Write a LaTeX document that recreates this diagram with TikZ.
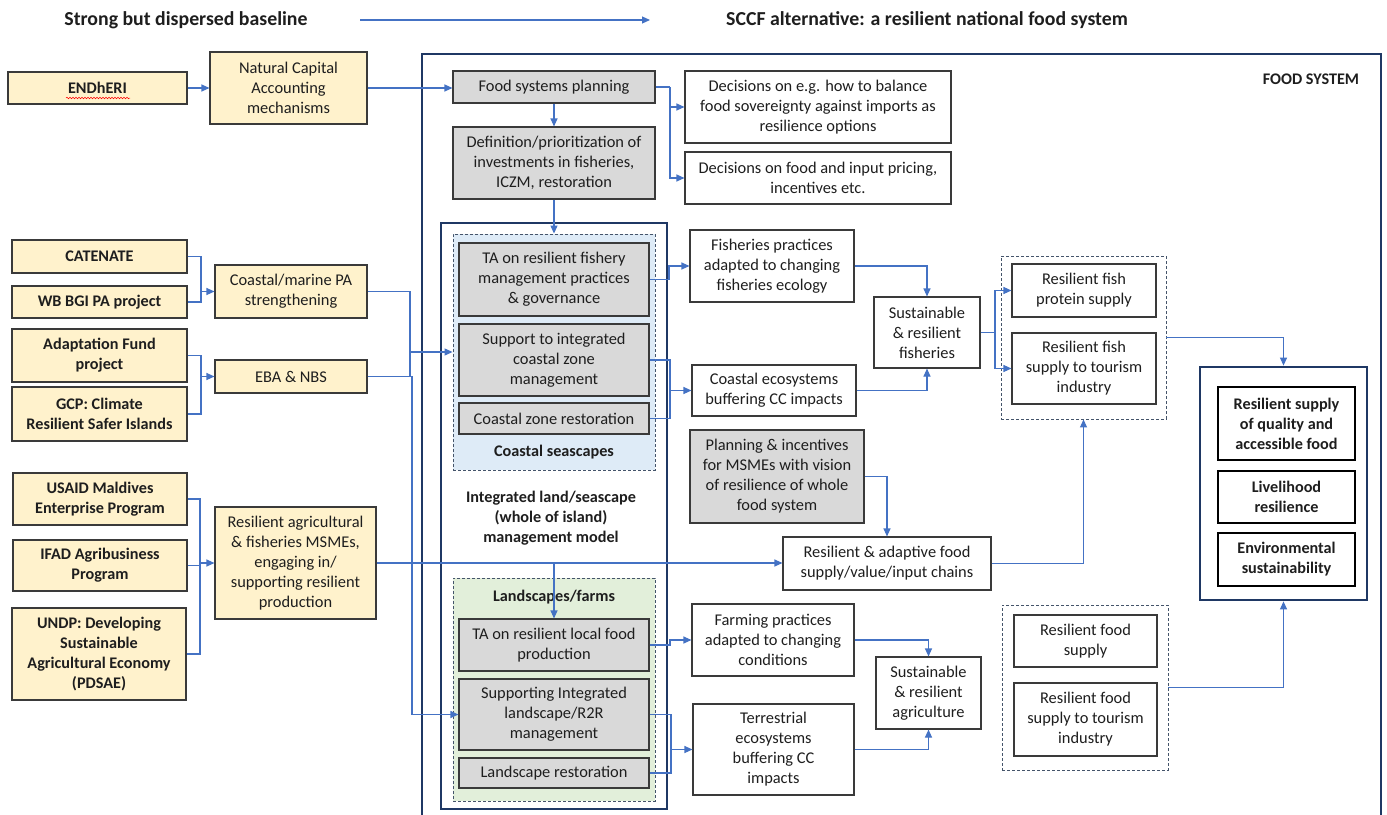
\documentclass[tikz,border=0pt]{standalone}
\usepackage{fontspec}
\setmainfont{Carlito}
\usetikzlibrary{arrows.meta,decorations.pathmorphing}
\definecolor{navy}{HTML}{1F3864}
\definecolor{cblue}{HTML}{4472C4}
\definecolor{yfill}{HTML}{FFF2CC}
\definecolor{gfill}{HTML}{D9D9D9}
\definecolor{bfill}{HTML}{DEEBF7}
\definecolor{lgfill}{HTML}{E2EFDA}
\definecolor{dborder}{HTML}{44546A}
\definecolor{bordr}{HTML}{3A3A3A}
\definecolor{txt}{HTML}{1E1E1E}
\newcommand\mybox[7]{%
  \pgfmathsetmacro\mywd{#5-#3}\pgfmathsetmacro\myht{#6-#4}%
  \pgfmathsetmacro\mycx{(#3+#5)/2}\pgfmathsetmacro\mycy{(#4+#6)/2}%
  \node[#1, minimum width=\mywd pt, minimum height=\myht pt] (#2) at (\mycx,\mycy) {#7};}
\begin{document}
\begin{tikzpicture}[x=1pt,y=-1pt,
  every node/.style={font=\fontsize{16.4}{20}\selectfont, text=txt, align=center, inner sep=1pt},
  boldtxt/.style={font=\fontsize{16.2}{20}\selectfont\bfseries},
  base/.style={draw=bordr, line width=1.1pt},
  ybox/.style={base, fill=yfill},
  ybold/.style={ybox, boldtxt},
  gbox/.style={base, fill=gfill},
  wbox/.style={base, fill=white},
  obox/.style={draw=black, line width=2.8pt, fill=white, boldtxt},
  grp/.style={draw=dborder, line width=0.9pt, dash pattern=on 3pt off 2pt},
  navybox/.style={draw=navy, line width=2.8pt},
  conn/.style={draw=cblue, line width=1.1pt},
  arr/.style={conn, -{Triangle[length=8pt,width=7pt]}},
  ttl/.style={font=\fontsize{19.8}{24}\selectfont\bfseries},
]
\useasboundingbox (0,0) rectangle (1387,814);
\fill[white] (0,0) rectangle (1387,814);

% titles
\node[ttl] (t1) at (186,20) {Strong but dispersed baseline};
\node[ttl] (t2) at (927,20) {SCCF alternative: a resilient national food system};
\coordinate (ta) at (360,20);
\coordinate (tb) at (650,20);
\draw[arr] (ta) -- (tb);

% food system frame
\draw[navybox] (422,830) -- (422,54) -- (1381,54) -- (1381,830);
\node[boldtxt] (fslbl) at (1311,79) {FOOD SYSTEM};

% integrated model frame and groups
\mybox{navybox}{integ}{441}{223}{667}{809}{}
\mybox{grp, fill=bfill}{seagrp}{453}{234}{655}{470}{}
\mybox{grp, fill=lgfill}{landgrp}{453}{578}{655}{801}{}
\node[boldtxt] (sealbl) at (554,452) {Coastal seascapes};
\node[boldtxt] (landlbl) at (554,597) {Landscapes/farms};
\node[boldtxt] (intlbl) at (551,518) {Integrated land/seascape\\(whole of island)\\management model};
\mybox{grp}{fishgrp}{1001}{256}{1166}{419}{}
\mybox{grp}{foodgrp}{1002}{605}{1168}{770}{}

% left yellow boxes
\mybox{ybold}{endheri}{8}{72}{187}{104}{ENDhERI}
\draw[red, line width=0.5pt, decorate, decoration={snake, amplitude=0.8pt, segment length=3pt}] (66,98) -- (130,98);
\mybox{ybox}{nca}{210}{52}{367}{124}{Natural Capital\\Accounting\\mechanisms}
\mybox{ybold}{catenate}{12}{240}{187}{273}{CATENATE}
\mybox{ybold}{wbbgi}{12}{286}{187}{318}{WB BGI PA project}
\mybox{ybox}{cmpa}{215}{265}{367}{318}{Coastal/marine PA\\strengthening}
\mybox{ybold}{adapt}{12}{329}{187}{382}{Adaptation Fund\\project}
\mybox{ybold}{gcp}{12}{387}{187}{441}{GCP: Climate\\Resilient Safer Islands}
\mybox{ybox}{eba}{215}{360}{367}{393}{EBA \& NBS}
\mybox{ybold}{usaid}{13}{473}{187}{525}{USAID Maldives\\Enterprise Program}
\mybox{ybold}{ifad}{13}{540}{187}{591}{IFAD Agribusiness\\Program}
\mybox{ybold}{undp}{12}{608}{186}{700}{UNDP: Developing\\Sustainable\\Agricultural Economy\\(PDSAE)}
\mybox{ybox}{msme}{215}{507}{376}{619}{Resilient agricultural\\\& fisheries MSMEs,\\engaging in/\\supporting resilient\\production}

% gray boxes
\mybox{gbox}{fsp}{453}{71}{655}{103}{Food systems planning}
\mybox{gbox}{def}{453}{127}{655}{199}{Definition/prioritization of\\investments in fisheries,\\ICZM, restoration}
\mybox{gbox}{tafish}{459}{243}{649}{316}{TA on resilient fishery\\management practices\\\& governance}
\mybox{gbox}{iczm}{459}{324}{649}{396}{Support to integrated\\coastal zone\\management}
\mybox{gbox}{czr}{459}{403}{649}{434}{Coastal zone restoration}
\mybox{gbox}{talocal}{459}{619}{649}{671}{TA on resilient local food\\production}
\mybox{gbox}{supland}{459}{679}{649}{750}{Supporting Integrated\\landscape/R2R\\management}
\mybox{gbox}{landrest}{459}{758}{649}{788}{Landscape restoration}
\mybox{gbox}{plan}{690}{430}{864}{523}{Planning \& incentives\\for MSMEs with vision\\of resilience of whole\\food system}

% white boxes
\mybox{wbox}{dec1}{685}{71}{951}{143}{Decisions on e.g. how to balance\\food sovereignty against imports as\\resilience options}
\mybox{wbox}{dec2}{685}{152}{951}{204}{Decisions on food and input pricing,\\incentives etc.}
\mybox{wbox}{fishprac}{690}{230}{854}{302}{Fisheries practices\\adapted to changing\\fisheries ecology}
\mybox{wbox}{coasteco}{692}{365}{856}{416}{Coastal ecosystems\\buffering CC impacts}
\mybox{wbox}{susfish}{874}{297}{980}{368}{Sustainable\\\& resilient\\fisheries}
\mybox{wbox}{fishprot}{1012}{264}{1156}{317}{Resilient fish\\protein supply}
\mybox{wbox}{fishtour}{1012}{333}{1156}{404}{Resilient fish\\supply to tourism\\industry}
\mybox{wbox}{rachain}{783}{537}{991}{590}{Resilient \& adaptive food\\supply/value/input chains}
\mybox{wbox}{farmprac}{692}{604}{854}{676}{Farming practices\\adapted to changing\\conditions}
\mybox{wbox}{terreco}{693}{704}{854}{795}{Terrestrial\\ecosystems\\buffering CC\\impacts}
\mybox{wbox}{susag}{876}{657}{981}{729}{Sustainable\\\& resilient\\agriculture}
\mybox{wbox}{foodsup}{1014}{615}{1157}{667}{Resilient food\\supply}
\mybox{wbox}{foodtour}{1014}{683}{1157}{756}{Resilient food\\supply to tourism\\industry}

% outcomes
\mybox{navybox, fill=white}{outbox}{1200}{367}{1367}{600}{}
\mybox{obox}{o1}{1218}{387}{1355}{460}{Resilient supply\\of quality and\\accessible food}
\mybox{obox}{o2}{1218}{471}{1355}{523}{Livelihood\\resilience}
\mybox{obox}{o3}{1218}{533}{1355}{586}{Environmental\\sustainability}

% connectors
\draw[arr] (endheri.east) -- (endheri.east -| nca.west);
\draw[arr] (nca.east) -- (nca.east -| fsp.west);
\draw[arr] (fsp.south) -- (def.north);
\coordinate (j9) at (670,87);
\draw[conn] (fsp.east) -- (j9);
\draw[arr] (j9) |- (dec1.west);
\draw[arr] (j9) |- (dec2.west);
\draw[arr] (def.south) -- (seagrp.north);

\coordinate (j1) at (201,291.5);
\draw[conn] (catenate.east) -| (j1) |- (wbbgi.east);
\draw[arr] (j1) -- (cmpa.west);
\coordinate (j2) at (201,376.5);
\draw[conn] (adapt.east) -| (j2) |- (gcp.east);
\draw[arr] (j2) -- (eba.west);
\coordinate (j3) at (200,563);
\draw[conn] (usaid.east) -| (j3) |- (undp.east);
\draw[conn] (ifad.east) -- (ifad.east -| j3);
\draw[arr] (j3) -- (msme.west);

\coordinate (j5) at (410,376.5);
\coordinate (j6) at (410,352);
\draw[conn] (cmpa.east) -| (j5);
\draw[arr] (j6) -- (seagrp.west);
\coordinate (j7) at (412,714.5);
\draw[arr] (eba.east) -| (j7) -- (supland.west);

\draw[arr] (msme.east) -- (msme.east -| rachain.west);
\coordinate (j8) at (554,563);
\draw[arr] (j8) -- (talocal.north);

\coordinate (j10) at (669,279.5);
\draw[arr] (tafish.east) -- (j10) |- (fishprac.west);
\coordinate (j11) at (670,360);
\draw[conn] (iczm.east) -- (j11) |- (czr.east);
\coordinate (j12) at (670,390.5);
\draw[arr] (j12) -- (coasteco.west);
\draw[arr] (plan.east) -| (rachain.north);
\coordinate (j13) at (670,645);
\draw[arr] (talocal.east) -- (j13) |- (farmprac.west);
\coordinate (j14) at (671,714.5);
\draw[conn] (supland.east) -- (j14) |- (landrest.east);
\coordinate (j15) at (671,749.5);
\draw[arr] (j15) -- (terreco.west);

\draw[arr] (fishprac.east) -| (susfish.north);
\draw[arr] (coasteco.east) -| (susfish.south);
\coordinate (j16) at (995,332.5);
\draw[conn] (susfish.east) -- (j16);
\draw[arr] (j16) |- (fishprot.west);
\draw[arr] (j16) |- (fishtour.west);
\draw[arr] (fishgrp.east) -| (outbox.north);
\draw[arr] (rachain.east) -| (fishgrp.south);
\draw[arr] (farmprac.east) -| (susag.north);
\draw[arr] (terreco.east) -| (susag.south);
\draw[arr] (foodgrp.east) -| (outbox.south);
\end{tikzpicture}
\end{document}
